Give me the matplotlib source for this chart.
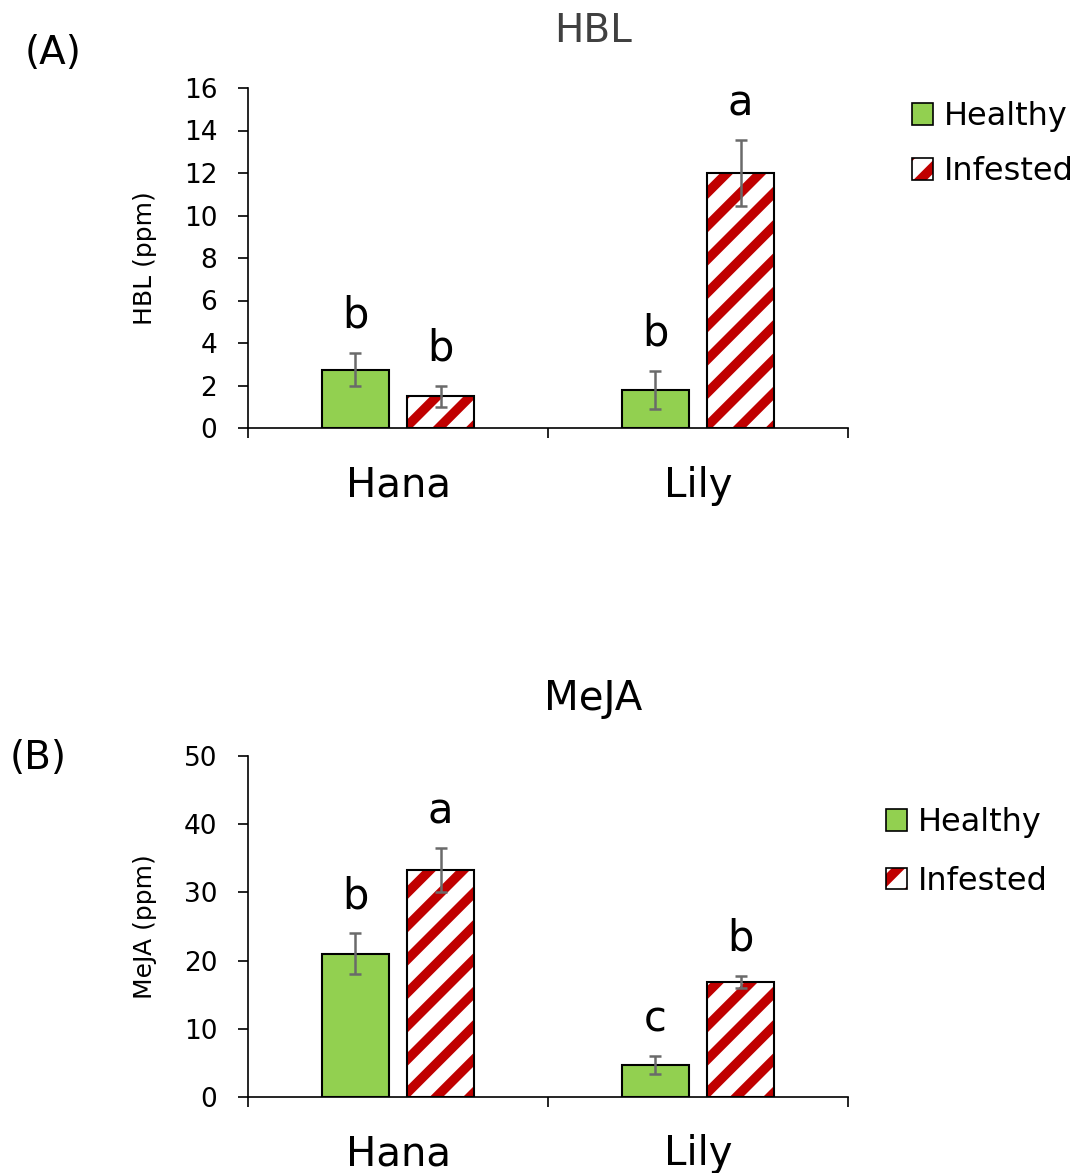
"""HBL and MeJA levels in healthy vs infested Hana / Lily plants (two stacked bar panels)."""

import matplotlib.pyplot as plt
import numpy as np
from matplotlib.patches import Patch

# Data
cultivars = ["Hana", "Lily"]

hbl_healthy = [2.75, 1.8]
hbl_healthy_err = [0.78, 0.9]
hbl_infested = [1.5, 12.0]
hbl_infested_err = [0.5, 1.55]
hbl_letters_healthy = ["b", "b"]
hbl_letters_infested = ["b", "a"]

meja_healthy = [21.0, 4.7]
meja_healthy_err = [3.0, 1.3]
meja_infested = [33.3, 16.9]
meja_infested_err = [3.2, 0.85]
meja_letters_healthy = ["b", "c"]
meja_letters_infested = ["a", "b"]

GREEN = "#92d050"
RED = "#c00000"
ERR = "#6a6a6a"

# dpi 200 keeps the hatch stripes wide like the original
DPI = 200
W, H = 1073, 1173
plt.rcParams["font.family"] = ["DejaVu Sans"]
plt.rcParams["hatch.linewidth"] = 3.4


def panel(ax, healthy, h_err, infested, i_err, l_h, l_i, ymax, ystep, ylabel):
    x = np.arange(len(cultivars))
    off, width = 0.142, 0.223
    ax.bar(x - off, healthy, width, color=GREEN, edgecolor="black", linewidth=0.75, zorder=2)
    ax.bar(x + off, infested, width, color="white", edgecolor=RED, linewidth=0,
           hatch="//", zorder=2)
    ax.bar(x + off, infested, width, fill=False, edgecolor="black", linewidth=0.75, zorder=3)
    ax.errorbar(x - off, healthy, yerr=h_err, fmt="none", ecolor=ERR, elinewidth=0.9,
                capsize=2.2, capthick=0.9, zorder=4)
    ax.errorbar(x + off, infested, yerr=i_err, fmt="none", ecolor=ERR, elinewidth=0.9,
                capsize=2.2, capthick=0.9, zorder=4)

    for xs, vals, errs, labs in [(x - off, healthy, h_err, l_h), (x + off, infested, i_err, l_i)]:
        for xi, v, e, lab in zip(xs, vals, errs, labs):
            ax.annotate(lab, (xi, v + e), xytext=(0, 9), textcoords="offset points",
                        ha="center", va="baseline", fontsize=15)

    ax.set_xlim(-0.5, 1.5)
    ax.set_ylim(0, ymax)
    ax.set_yticks(np.arange(0, ymax + ystep / 2, ystep))
    ax.set_xticks([-0.5, 0.5, 1.5])
    ax.set_xticklabels([])
    ax.set_xticks(x, minor=True)
    ax.set_xticklabels(cultivars, minor=True, fontsize=14.5)
    ax.tick_params(axis="x", which="major", length=3.6, width=0.6, direction="out")
    ax.tick_params(axis="x", which="minor", length=0, pad=13.5)
    ax.tick_params(axis="y", length=3.6, width=0.6, labelsize=9.5, pad=7.5)
    for s in ["top", "right"]:
        ax.spines[s].set_visible(False)
    for s in ["left", "bottom"]:
        ax.spines[s].set_linewidth(0.6)
    ax.set_ylabel(ylabel, fontsize=9)
    ax.yaxis.set_label_coords(-0.152, 0.5)


fig = plt.figure(figsize=(W / DPI, H / DPI), dpi=DPI)
axA = fig.add_axes([248 / W, 1 - 428 / H, 600 / W, 340 / H])
axB = fig.add_axes([248 / W, 1 - 1097 / H, 600 / W, 341 / H])

panel(axA, hbl_healthy, hbl_healthy_err, hbl_infested, hbl_infested_err,
      hbl_letters_healthy, hbl_letters_infested, 16, 2, "HBL (ppm)")
panel(axB, meja_healthy, meja_healthy_err, meja_infested, meja_infested_err,
      meja_letters_healthy, meja_letters_infested, 50, 10, "MeJA (ppm)")

fig.text(593 / W, 1 - 31 / H, "HBL", ha="center", va="center", fontsize=14, color="#404040")
fig.text(593 / W, 1 - 699 / H, "MeJA", ha="center", va="center", fontsize=14.5)
fig.text(53 / W, 1 - 53 / H, "(A)", ha="center", va="center", fontsize=14)
fig.text(38 / W, 1 - 758 / H, "(B)", ha="center", va="center", fontsize=14)

h_patch = Patch(facecolor=GREEN, edgecolor="black", linewidth=0.6)
i_patch = (Patch(facecolor="white", edgecolor=RED, linewidth=0, hatch="//"),
           Patch(fill=False, edgecolor="black", linewidth=0.6))
for anchor, spacing in [((912 / W, 1 - 101 / H), 0.75), ((886 / W, 1 - 807 / H), 0.87)]:
    fig.legend([h_patch, i_patch], ["Healthy", "Infested"], loc="upper left",
               bbox_to_anchor=anchor, frameon=False, fontsize=11.5, borderpad=0,
               borderaxespad=0, handlelength=0.66, handleheight=0.66,
               handletextpad=0.35, labelspacing=spacing)

fig.savefig("out.png", dpi=DPI)
